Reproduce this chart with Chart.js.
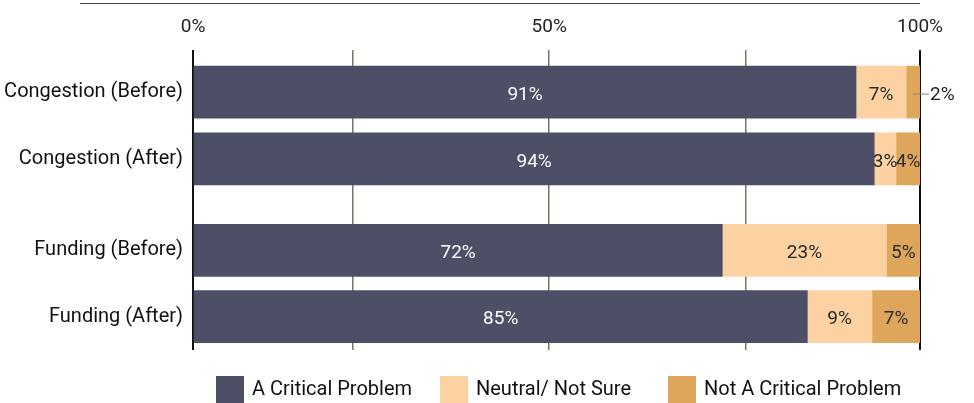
<!DOCTYPE html>
<html>
<head>
<meta charset="utf-8">
<script src="https://cdn.jsdelivr.net/npm/chart.js@4/dist/chart.umd.min.js"></script>
<style>
  body { margin: 0; background: #fff; }
  #wrap { position: relative; width: 974px; height: 403px; }
  #topline { position: absolute; left: 80px; top: 3px; width: 840px; border-top: 1.5px solid #444; }
</style>
</head>
<body>
<div id="wrap">
  <div id="topline"></div>
  <canvas id="grafico" width="974" height="403"></canvas>
</div>
<script>
// dados
const categorias = ["Congestion (Before)", "Congestion (After)", "Funding (Before)", "Funding (After)"];
const posicoes = [0, 1, 2.37, 3.36];   // gap between the two groups
const series = ["A Critical Problem", "Neutral/ Not Sure", "Not A Critical Problem"];
const critico = [91.2, 93.7, 72.8, 84.5];
const neutro = [6.9, 3.0, 22.6, 8.9];
const naoCritico = [1.9, 3.3, 4.6, 6.6];
const rotCritico = ["91%", "94%", "72%", "85%"];
const rotNeutro = ["7%", "3%", "23%", "9%"];
const rotNaoCritico = ["2%", "4%", "5%", "7%"];
const ticksX = [0, 22, 49, 76, 100];
const rotTicksX = ["0%", "", "50%", "", "100%"];

const fonte = 'Roboto, "DejaVu Sans", sans-serif';
const cores = ["#4d4f66", "#fdd2a3", "#dea65b"];
const legendaX = [216, 440, 668];

function pontos(vals) {
  return vals.map((v, i) => ({ x: v, y: posicoes[i] }));
}

// rotulos das barras
const rotulos = {
  id: 'rotulos',
  afterDatasetsDraw(chart) {
    const ctx = chart.ctx;
    const textos = [rotCritico, rotNeutro, rotNaoCritico];
    ctx.save();
    ctx.font = '19px ' + fonte;
    ctx.textBaseline = 'middle';
    chart.data.datasets.forEach((ds, d) => {
      chart.getDatasetMeta(d).data.forEach((el, i) => {
        const larg = Math.abs(el.x - el.base);
        const t = textos[d][i];
        if (larg < 18) {
          const cx = (el.x + el.base) / 2;
          ctx.strokeStyle = '#888';
          ctx.lineWidth = 1;
          ctx.beginPath();
          ctx.moveTo(cx, el.y + 2);
          ctx.lineTo(el.x + 9, el.y + 2);
          ctx.stroke();
          ctx.fillStyle = '#222';
          ctx.textAlign = 'left';
          ctx.fillText(t, el.x + 10, el.y + 3);
        } else {
          ctx.fillStyle = d === 0 ? '#fff' : '#2a2a2a';
          ctx.textAlign = 'center';
          ctx.fillText(t, (el.x + el.base) / 2, el.y + 3);
        }
      });
    });
    ctx.restore();
  }
};

// legenda embaixo
const legenda = {
  id: 'legenda',
  afterDraw(chart) {
    const ctx = chart.ctx;
    ctx.save();
    ctx.font = '20px ' + fonte;
    ctx.textBaseline = 'middle';
    ctx.textAlign = 'left';
    const y = 376;
    chart.data.datasets.forEach((ds, k) => {
      const x = legendaX[k];
      ctx.fillStyle = ds.backgroundColor;
      ctx.fillRect(x, y, 28, 27);
      ctx.fillStyle = '#111';
      ctx.fillText(ds.label, x + 36, y + 14);
    });
    ctx.restore();
  }
};

let grafico = new Chart(document.getElementById('grafico'), {
  type: 'bar',
  data: {
    datasets: [
      { label: series[0], data: pontos(critico), backgroundColor: cores[0], barThickness: 52 },
      { label: series[1], data: pontos(neutro), backgroundColor: cores[1], barThickness: 52 },
      { label: series[2], data: pontos(naoCritico), backgroundColor: cores[2], barThickness: 52 }
    ]
  },
  options: {
    indexAxis: 'y',
    responsive: false,
    animation: false,
    layout: { padding: { top: 0, right: 54, bottom: 53, left: 0 } },
    plugins: { legend: { display: false }, tooltip: { enabled: false } },
    scales: {
      x: {
        position: 'top',
        stacked: true,
        min: 0, max: 100,
        afterBuildTicks: (s) => { s.ticks = ticksX.map(v => ({ value: v })); },
        afterFit: (s) => { s.height = 50; },
        ticks: {
          callback: (v, i) => rotTicksX[i],
          font: { family: fonte, size: 19 },
          color: '#222',
          padding: 11,
          maxRotation: 0
        },
        grid: {
          drawTicks: false,
          color: (c) => (c.tick && (c.tick.value === 0 || c.tick.value === 100)) ? '#111' : '#77775f',
          lineWidth: (c) => (c.tick && (c.tick.value === 0 || c.tick.value === 100)) ? 2 : 1.5
        },
        border: { display: false }
      },
      y: {
        type: 'linear',
        stacked: true,
        reverse: true,
        offset: false,
        min: -0.63, max: 3.86,
        afterBuildTicks: (s) => { s.ticks = posicoes.map(v => ({ value: v })); },
        afterFit: (s) => { s.width = 193; },
        ticks: {
          callback: (v, i) => categorias[i],
          font: { family: fonte, size: 20 },
          color: '#111',
          padding: 10
        },
        grid: { display: false, drawTicks: false },
        border: { display: false }
      }
    }
  },
  plugins: [rotulos, legenda]
});
</script>
</body>
</html>
